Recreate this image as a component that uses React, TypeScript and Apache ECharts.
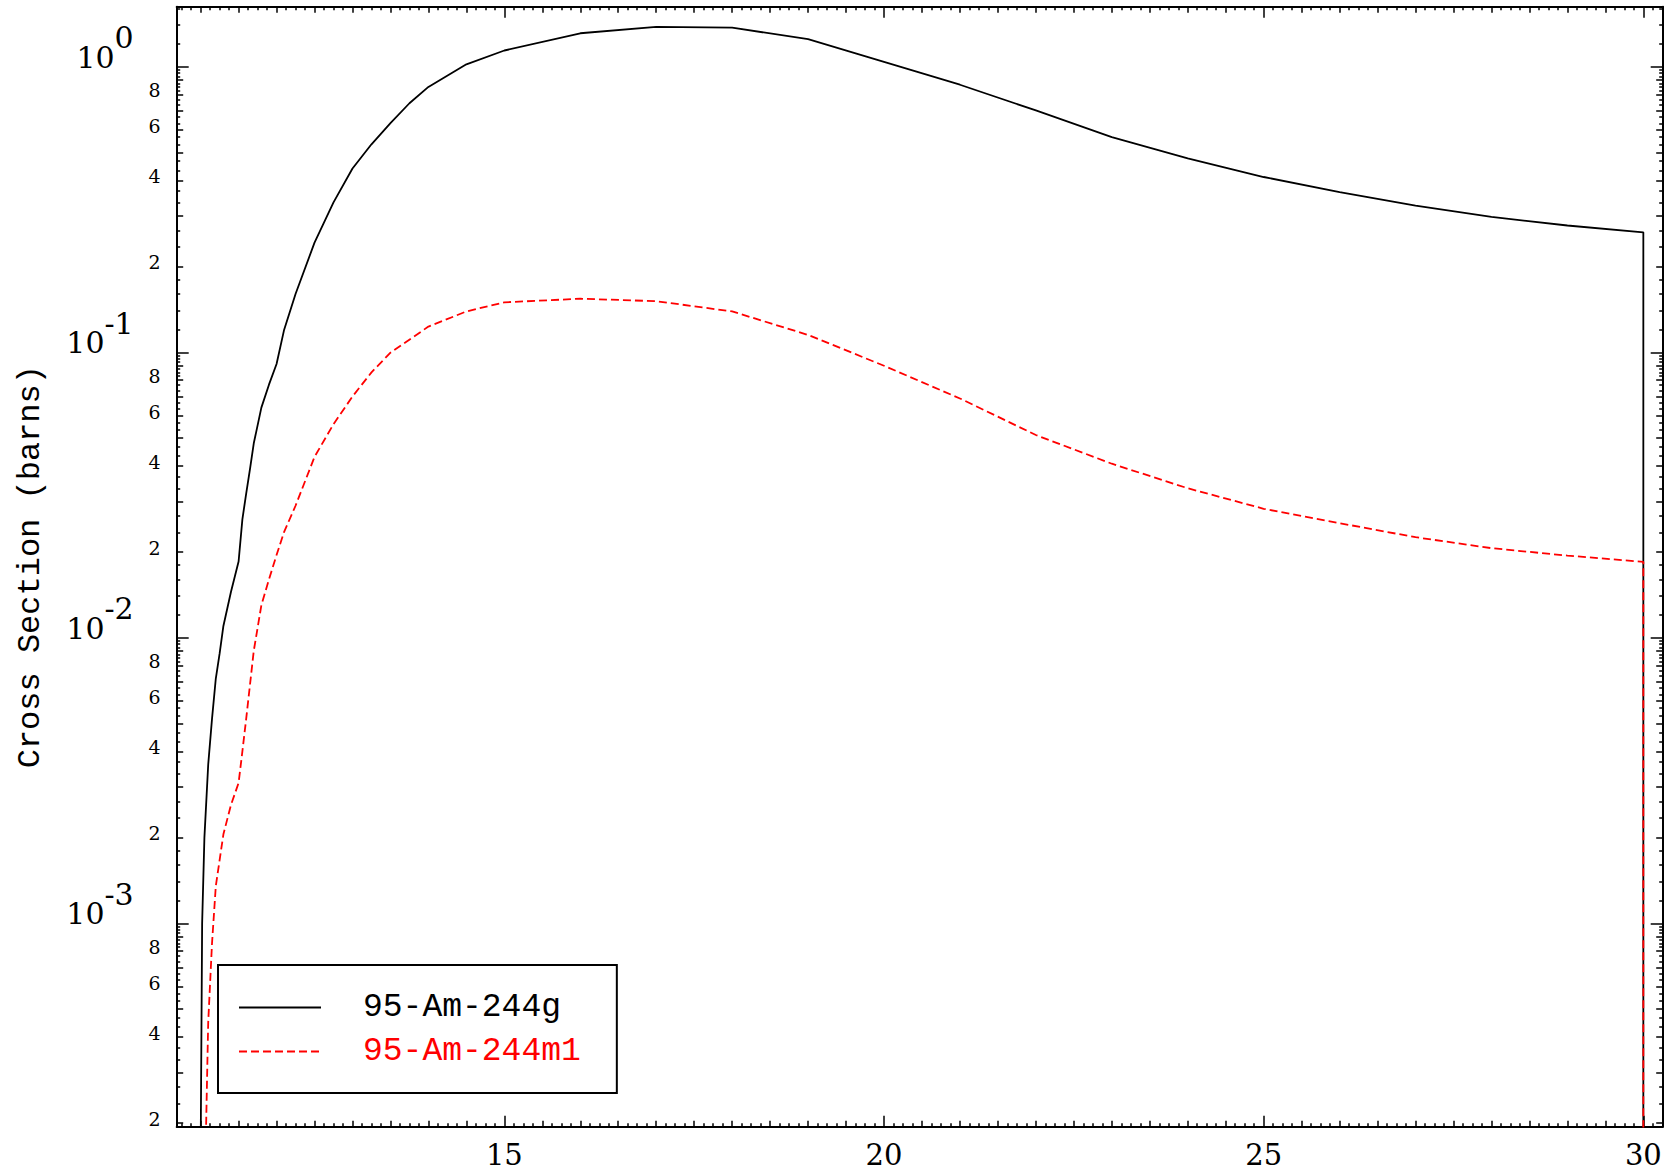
import React, { useEffect, useRef } from 'react';
import * as echarts from 'echarts';

// ---- data ----
const seriesNames = ['95-Am-244g', '95-Am-244m1'];

const gEnergy = [11.0, 11.02, 11.05, 11.1, 11.15, 11.2, 11.25, 11.3, 11.4, 11.5, 11.55, 11.6, 11.65, 11.7, 11.8, 11.9, 12.0, 12.1, 12.25, 12.5, 12.75, 13.0, 13.25, 13.5, 13.75, 14.0, 14.5, 15.0, 16.0, 17.0, 18.0, 19.0, 20.0, 21.0, 22.0, 23.0, 24.0, 25.0, 26.0, 27.0, 28.0, 29.0, 30.0, 30.0];
const gXS = [1.5e-4, 1.0e-3, 2.0e-3, 3.6e-3, 5.2e-3, 7.2e-3, 8.8e-3, 1.1e-2, 1.45e-2, 1.85e-2, 2.6e-2, 3.2e-2, 3.9e-2, 4.8e-2, 6.4e-2, 7.7e-2, 9.1e-2, 0.12, 0.16, 0.242, 0.335, 0.44, 0.535, 0.635, 0.745, 0.85, 1.02, 1.14, 1.31, 1.38, 1.37, 1.25, 1.04, 0.865, 0.703, 0.567, 0.478, 0.411, 0.364, 0.326, 0.298, 0.278, 0.263, 1e-5];

const mEnergy = [11.05, 11.1, 11.15, 11.2, 11.3, 11.4, 11.5, 11.55, 11.6, 11.7, 11.8, 11.9, 12.0, 12.1, 12.25, 12.5, 12.75, 13.0, 13.25, 13.5, 14.0, 14.5, 15.0, 16.0, 17.0, 18.0, 19.0, 20.0, 21.0, 22.0, 23.0, 24.0, 25.0, 26.0, 27.0, 28.0, 29.0, 30.0, 30.0];
const mXS = [1.0e-4, 4.5e-4, 8.5e-4, 1.35e-3, 2.05e-3, 2.6e-3, 3.1e-3, 4.0e-3, 5.2e-3, 9.0e-3, 1.3e-2, 1.6e-2, 1.95e-2, 2.35e-2, 2.9e-2, 4.3e-2, 5.6e-2, 7.0e-2, 8.5e-2, 9.97e-2, 0.123, 0.139, 0.1496, 0.154, 0.151, 0.139, 0.115, 0.0897, 0.0689, 0.0513, 0.0407, 0.0334, 0.0283, 0.0252, 0.0225, 0.0206, 0.0194, 0.01845, 1e-5];

// ---- axes ----
const X_MIN = 10.685;
const X_MAX = 30.255;
const Y_MIN = 1.939e-4;
const Y_MAX = 1.623;

const xLabelValues = [15, 20, 25, 30];
const xMediumStep = 0.5;
const xSmallStep = 0.125;

const decades = [1e-4, 1e-3, 1e-2, 1e-1, 1];
const labeledMantissas = [2, 4, 6, 8];
const mediumMantissas = [2, 3, 4, 5, 6, 7, 8, 9];
const smallMantissas = [1.2, 1.4, 1.6, 1.8, 2.333, 2.667, 3.333, 3.667, 4.333, 4.667, 5.333, 5.667, 6.333, 6.667, 7.333, 7.667, 8.25, 8.5, 8.75, 9.25, 9.5, 9.75];

const NUM_FONT = 'DejaVu Serif';
const MONO_FONT = 'Liberation Mono';
const BLACK = '#000000';
const RED = '#ff0000';

function stepTicks(step: number, exclude: number) {
  const out: number[] = [];
  const n0 = Math.ceil(X_MIN / step);
  const n1 = Math.floor(X_MAX / step);
  for (let n = n0; n <= n1; n++) {
    const v = +(n * step).toFixed(4);
    if (Math.abs(v / exclude - Math.round(v / exclude)) > 1e-6) out.push(v);
  }
  return out;
}

const xMajor = xLabelValues;
const xMedium = stepTicks(xMediumStep, 5);
const xSmall = stepTicks(xSmallStep, 0.5);

const yMajor = decades;
const yMedium = decades.flatMap((d) => mediumMantissas.map((m) => m * d));
const ySmall = decades.flatMap((d) => smallMantissas.map((m) => m * d));
const yLabels = decades.concat(decades.flatMap((d) => labeledMantissas.map((m) => m * d)));

function yFormatter(v: number) {
  const lg = Math.log10(v);
  const n = Math.round(lg);
  if (Math.abs(lg - n) < 1e-6) {
    return '{b|10}{s|' + (n === 0 ? '0' : '-' + String(-n)) + '}{g|}';
  }
  const e = Math.floor(lg + 1e-9);
  const mant = Math.round(v / Math.pow(10, e));
  return '{n|' + mant + '}';
}

const yRich = {
  b: { fontFamily: NUM_FONT, fontSize: 30, color: BLACK, lineHeight: 69, align: 'right', verticalAlign: 'middle' },
  s: { fontFamily: NUM_FONT, fontSize: 30, color: BLACK, align: 'right', verticalAlign: 'top' },
  g: { width: 27, align: 'right', lineHeight: 69 },
  n: { fontFamily: NUM_FONT, fontSize: 19, color: BLACK, align: 'right', padding: [11, 0, 0, 0] },
};

function tickAxis(kind: 'x' | 'y', position: string, ticks: number[], len: number, withLine: boolean, extra: any = {}) {
  const base: any = {
    type: kind === 'x' ? 'value' : 'log',
    position,
    min: kind === 'x' ? X_MIN : Y_MIN,
    max: kind === 'x' ? X_MAX : Y_MAX,
    axisLine: { show: withLine, onZero: false, lineStyle: { color: BLACK, width: 2 } },
    axisTick: { show: true, inside: true, length: len, customValues: ticks, lineStyle: { color: BLACK, width: 1.5 } },
    axisLabel: { show: false },
    splitLine: { show: false },
    minorTick: { show: false },
    minorSplitLine: { show: false },
  };
  if (kind === 'y') base.logBase = 10;
  return Object.assign(base, extra);
}

const xAxes = [
  tickAxis('x', 'bottom', xMajor, 11, true, {
    axisLabel: {
      show: true,
      customValues: xLabelValues,
      margin: 14,
      fontFamily: NUM_FONT,
      fontSize: 29,
      color: BLACK,
      hideOverlap: false,
      formatter: (v: number) => String(v),
    },
  }),
  tickAxis('x', 'bottom', xMedium, 6, false),
  tickAxis('x', 'bottom', xSmall, 3.5, false),
  tickAxis('x', 'top', xMajor, 11, true),
  tickAxis('x', 'top', xMedium, 6, false),
  tickAxis('x', 'top', xSmall, 3.5, false),
];

const yAxes = [
  tickAxis('y', 'left', yMajor, 12, true, {
    name: 'Cross Section (barns)',
    nameLocation: 'middle',
    nameGap: 130,
    nameRotate: 90,
    nameMoveOverlap: false,
    nameTextStyle: { fontFamily: MONO_FONT, fontSize: 32, color: BLACK },
    axisLabel: {
      show: true,
      customValues: yLabels,
      margin: 16,
      padding: [0, 0, 19, 0],
      hideOverlap: false,
      formatter: yFormatter,
      rich: yRich,
    },
  }),
  tickAxis('y', 'left', yMedium, 6.5, false),
  tickAxis('y', 'left', ySmall, 3.5, false),
  tickAxis('y', 'right', yMajor, 12, true),
  tickAxis('y', 'right', yMedium, 6.5, false),
  tickAxis('y', 'right', ySmall, 3.5, false),
];

const option: any = {
  animation: false,
  backgroundColor: '#ffffff',
  grid: { left: 176.7, top: 6.7, right: 10.3, bottom: 47.3, containLabel: false, outerBoundsMode: 'none' },
  xAxis: xAxes,
  yAxis: yAxes,
  legend: {
    show: true,
    orient: 'vertical',
    left: 218,
    top: 965,
    padding: [26, 36, 25, 20],
    borderColor: BLACK,
    borderWidth: 2,
    backgroundColor: '#ffffff',
    itemGap: 11,
    itemWidth: 82,
    itemHeight: 14,
    selectedMode: false,
    itemStyle: { opacity: 0 },
    textStyle: { fontFamily: MONO_FONT, fontSize: 33, lineHeight: 30, padding: [0, 0, 0, 37] },
    data: [
      { name: seriesNames[0], textStyle: { color: BLACK } },
      { name: seriesNames[1], textStyle: { color: RED } },
    ],
  },
  series: [
    {
      name: seriesNames[0],
      type: 'line',
      xAxisIndex: 0,
      yAxisIndex: 0,
      data: gEnergy.map((e, i) => [e, gXS[i]]),
      showSymbol: false,
      symbol: 'none',
      clip: true,
      lineStyle: { color: BLACK, width: 1.8, type: 'solid' },
      itemStyle: { color: BLACK },
      z: 3,
    },
    {
      name: seriesNames[1],
      type: 'line',
      xAxisIndex: 0,
      yAxisIndex: 0,
      data: mEnergy.map((e, i) => [e, mXS[i]]),
      showSymbol: false,
      symbol: 'none',
      clip: true,
      lineStyle: { color: RED, width: 1.8, type: [8, 4] },
      itemStyle: { color: RED },
      z: 4,
    },
  ],
};

export default function App() {
  const ref = useRef<HTMLDivElement>(null);
  useEffect(() => {
    if (!ref.current) return;
    const chart = echarts.init(ref.current, null, { renderer: 'svg' });
    chart.setOption(option);
    return () => chart.dispose();
  }, []);
  return (
    <div
      ref={ref}
      style={{ position: 'fixed', left: 0, top: 0, width: 1673, height: 1174, background: '#ffffff' }}
    />
  );
}
